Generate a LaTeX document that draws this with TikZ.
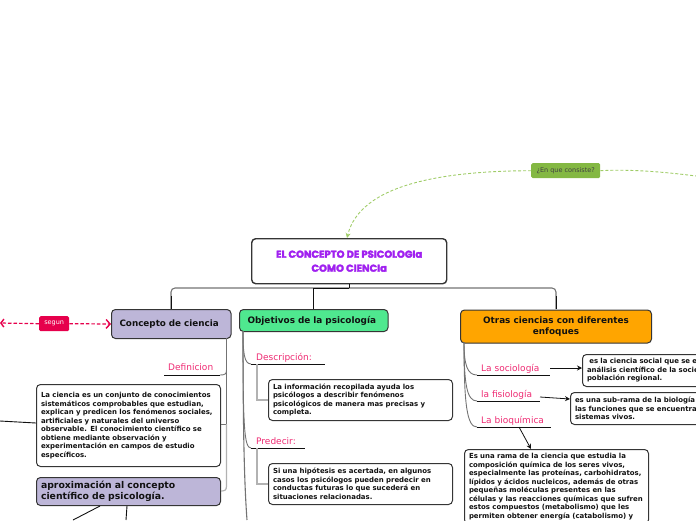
\documentclass[tikz,border=0pt]{standalone}
\usepackage{fontspec}
\setmainfont{DejaVu Sans}
\newfontfamily\titlef[FakeBold=3]{Poppins Bold}
\usetikzlibrary{arrows.meta}
\definecolor{pur}{HTML}{BDB6D8}
\definecolor{grn}{HTML}{4FE88F}
\definecolor{org}{HTML}{FFA500}
\definecolor{lime}{HTML}{84B843}
\definecolor{limel}{HTML}{A0CC68}
\definecolor{crim}{HTML}{E6004C}
\definecolor{pink}{HTML}{EE2A72}
\definecolor{titl}{HTML}{A020F0}
\definecolor{ink}{HTML}{111111}
\tikzset{
 x=1pt,y=-1pt,
 boxbase/.style={draw=ink!85,line width=1pt,rounded corners=4pt,anchor=north west,inner sep=0pt,align=left},
 mainbox/.style={boxbase,text=ink},
 txtbox/.style={boxbase,fill=white,inner xsep=4.5pt,inner ysep=3pt,font=\bfseries\fontsize{6.95}{8.5}\selectfont,text=ink},
 tag/.style={rounded corners=1.5pt,anchor=north west,inner sep=0pt,align=center,font=\fontsize{6.5}{7.5}\selectfont},
 lab/.style={anchor=base west,inner sep=0pt,text=pink,font=\fontsize{9}{11}\selectfont},
 tline/.style={draw=ink,line width=.9pt},
 gline/.style={draw=black!55,line width=.9pt},
 lline/.style={draw=black!30,line width=1.2pt},
 arr/.style={draw=ink,line width=.8pt,-{Stealth[length=5pt,width=5pt]}},
 dashg/.style={draw=limel,line width=.9pt,dash pattern=on 3pt off 2pt},
 dashr/.style={draw=crim,line width=1.2pt,dash pattern=on 3.5pt off 2pt},
}
\begin{document}
\begin{tikzpicture}
\useasboundingbox (0,0) rectangle (696,520);
\clip (0,0) rectangle (696,520);
% boxes
\node[boxbase,fill=white,line width=1.4pt,minimum width=195pt,minimum height=45pt,align=center,text=titl,font=\titlef\fontsize{10}{14}\selectfont] (title) at (251,238) {EL CONCEPTO DE PSICOLOGIa\\COMO CIENCIa};
\node[mainbox,fill=pur,inner xsep=8pt,text width=103.5pt,minimum height=29pt,font=\bfseries\fontsize{8.8}{11}\selectfont] (concepto) at (111,309) {Concepto de ciencia};
\node[mainbox,fill=grn,inner xsep=8pt,text width=132.5pt,minimum height=22pt,font=\bfseries\fontsize{8.9}{11}\selectfont] (objetivos) at (239,309) {Objetivos de la psicología};
\node[mainbox,fill=org,align=center,minimum width=191pt,minimum height=33pt,font=\bfseries\fontsize{8.85}{11}\selectfont] (otras) at (460,309.5) {Otras ciencias con diferentes\\enfoques};
\node[tag,fill=lime,text=ink!80,minimum width=69pt,minimum height=15pt] (consiste) at (531,163) {¿En que consiste?};
\node[tag,fill=crim,text=white,minimum width=30pt,minimum height=15pt] (segun) at (39,316) {segun};
\coordinate (gr) at (696,176);
\coordinate (rl) at (0,323);
\node[txtbox,text width=175pt,minimum height=82pt] (ciencia) at (36,384) {La ciencia es un conjunto de conocimientos\\sistemáticos comprobables que estudian,\\explican y predicen los fenómenos sociales,\\artificiales y naturales del universo\\observable. El conocimiento científico se\\obtiene mediante observación y\\experimentación en campos de estudio\\específicos.\\[14pt]};
\node[boxbase,fill=pur,inner xsep=4.5pt,text width=175pt,minimum height=28pt,text=ink,font=\bfseries\fontsize{9.3}{11}\selectfont] (aprox) at (36,477) {aproximación al concepto\\científico de psicología.};
\node[txtbox,text width=175pt,minimum height=41pt] (descbox) at (268,379) {La información recopilada ayuda los\\psicólogos a describir fenómenos\\psicológicos de manera mas precisas y\\completa.};
\node[txtbox,text width=175pt,minimum height=41pt] (predbox) at (268,463) {Si una hipótesis es acertada, en algunos\\casos los psicólogos pueden predecir en\\conductas futuras lo que sucederá en\\situaciones relacionadas.};
\node[txtbox,text width=125pt,minimum height=32pt] (socbox) at (582,354) {\ es la ciencia social que se e\\análisis científico de la socie\\población regional.};
\node[txtbox,text width=135pt,minimum height=32pt] (fisbox) at (570,392) {es una sub-rama de la biología\\las funciones que se encuentra\\sistemas vivos.};
\node[txtbox,inner ysep=4pt,text width=175pt] (bioqbox) at (464,449) {Es una rama de la ciencia que estudia la\\composición química de los seres vivos,\\especialmente las proteínas, carbohidratos,\\lípidos y ácidos nucleicos, además de otras\\pequeñas moléculas presentes en las\\células y las reacciones químicas que sufren\\estos compuestos (metabolismo) que les\\permiten obtener energía (catabolismo) y};
% labels
\node[lab] (definicion) at (168,370) {Definicion};
\node[lab] (descripcion) at (256,360) {Descripción:};
\node[lab] (predecir) at (256,444) {Predecir:};
\node[lab] (sociologia) at (481,371) {La sociología};
\node[lab] (fisiologia) at (481,397) {la fisiología};
\node[lab] (bioquimica) at (481,423) {La bioquímica};
% underlines
\coordinate (uDefL) at (164,375); \coordinate (uDefR) at (220,375);
\coordinate (uDesL) at (251,364); \coordinate (uDesR) at (325,364);
\coordinate (uPreL) at (251,448); \coordinate (uPreR) at (305,448);
\coordinate (uSocL) at (477,375); \coordinate (uSocR) at (550,375);
\coordinate (uFisL) at (477,401); \coordinate (uFisR) at (540,401);
\coordinate (uBioL) at (477,427); \coordinate (uBioR) at (551,427);
\coordinate (bA) at (73,520); \coordinate (bB) at (126,520); \coordinate (bC) at (247,520);
\coordinate (wL) at (0,421);
% trunk
\draw[gline,line width=1.1pt,rounded corners=4pt] (171,309) -- (171,288) -- (556,288) -- (556,309);
\draw[tline] (171,309) -- (171,296);
\draw[tline] (556,309) -- (556,296);
\draw[tline,line width=1pt] (title.south -| 349,288) -- (349,288);
\draw[tline,line width=1pt] (313,288) -- (349,288);
\draw[tline] (313,309) -- (313,288);
% dashed links
\draw[dashg,-{Stealth[length=5pt,width=5pt]}] (consiste.west) .. controls (440,171) and (360,185) .. (title.north -| 347,238);
\draw[dashg] (consiste.east) .. controls (630,169) and (665,172) .. (gr);
\draw[dashr,-{Straight Barb[length=4pt,width=9pt,line width=1.4pt]}] (segun.east) -- (concepto.west);
\draw[dashr,-{Straight Barb[length=3pt,width=8pt,line width=1.4pt]}] (segun.west) -- (rl);
% concept branch
\draw[tline] (uDefL) -- (uDefR);
\draw[gline] (226.5,338) -- (226.5,370) .. controls (226.5,374) and (225,375) .. (uDefR);
\draw[gline] (226.5,338) -- (226.5,424) -- (ciencia.east |- 0,424);
\draw[lline] (226.5,424) -- (226.5,486) .. controls (226.5,490) and (225,491) .. (aprox.east |- 0,491);
\draw[tline] (ciencia.west |- 0,423) -- (wL);
\draw[tline] (aprox.south -| 100,505) -- (bA);
\draw[tline] (aprox.south -| 127,505) -- (bB);
% objetivos branch
\draw[tline] (uDesL) -- (uDesR);
\draw[tline] (uPreL) -- (uPreR);
\draw[gline] (243,331) .. controls (243,352) and (244,364) .. (uDesL);
\draw[gline] (243,331) .. controls (243,425) and (244,448) .. (uPreL);
\draw[gline,line width=1.1pt] (243,331) .. controls (243,420) and (244,480) .. (bC);
\draw[lline] (257,364) -- (257,400) -- (descbox.west |- 0,400);
\draw[lline] (257,448) -- (257,484) -- (predbox.west |- 0,484);
% otras branch
\draw[tline] (uSocL) -- (uSocR);
\draw[tline] (uFisL) -- (uFisR);
\draw[tline] (uBioL) -- (uBioR);
\draw[gline] (464,342) .. controls (464,364) and (467,375) .. (uSocL);
\draw[gline] (464,342) .. controls (464,385) and (467,401) .. (uFisL);
\draw[gline] (464,342) .. controls (464,405) and (467,427) .. (uBioL);
\draw[arr] (uSocR |- 0,368) -- (socbox.west |- 0,368);
\draw[arr] (uFisR |- 0,397) -- (fisbox.west |- 0,399);
\draw[arr] (519,427) -- (bioqbox.north -| 531,449);
\end{tikzpicture}
\end{document}
